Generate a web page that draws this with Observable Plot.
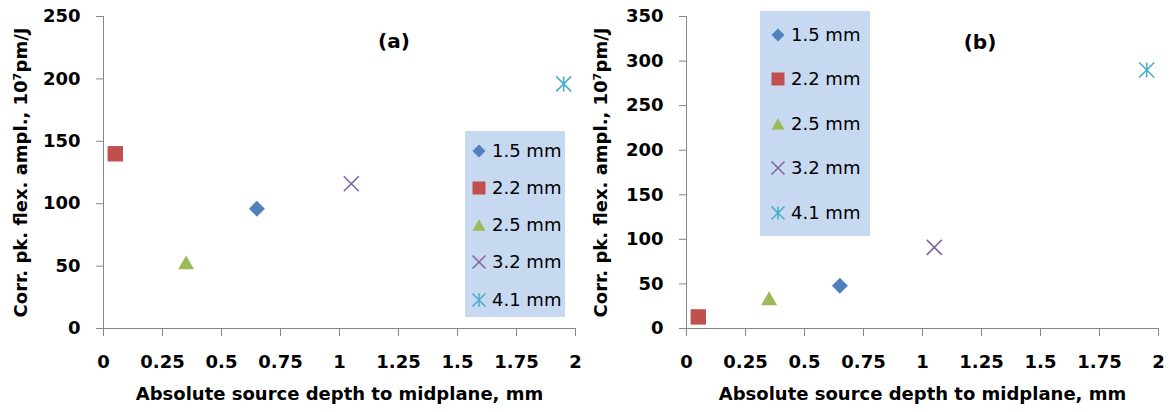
<!DOCTYPE html>
<html><head><meta charset="utf-8">
<script src="https://cdn.jsdelivr.net/npm/d3@7"></script>
<script src="https://cdn.jsdelivr.net/npm/@observablehq/plot@0.6"></script>
<style>
body{margin:0;background:#fff;}
#wrap{position:relative;width:1171px;height:412px;font-family:"DejaVu Sans",sans-serif;overflow:hidden;}
#left,#right{position:absolute;top:0;}
#left{left:0}#right{left:585px}
.legend{position:absolute;background:#C6D9F1;}
.item{position:absolute;left:0;height:20px;font-size:18px;line-height:20px;white-space:nowrap;}
.item svg{position:absolute;top:0;}
.item span{position:absolute;top:0;}
.panel{position:absolute;font-weight:bold;font-size:20px;transform:translate(-50%,-50%);}
</style></head><body>
<div id="wrap">
  <div id="left"></div>
  <div id="right"></div>
  <div class="panel" style="left:394px;top:41px">(a)</div>
  <div class="panel" style="left:980px;top:42px">(b)</div>
  <div class="legend" id="legA" style="left:465px;top:131px;width:100px;height:186px"></div>
  <div class="legend" id="legB" style="left:760px;top:11px;width:110px;height:225px"></div>
</div>
<script>
// ---- data ----
const series = ["1.5 mm", "2.2 mm", "2.5 mm", "3.2 mm", "4.1 mm"];
const depthA = [0.65, 0.05, 0.35, 1.05, 1.95];
const amplA  = [96, 140, 53, 116, 196];
const depthB = [0.65, 0.05, 0.35, 1.05, 1.95];
const amplB  = [48, 13, 34, 91, 290];
const xTicks  = [0, 0.25, 0.5, 0.75, 1, 1.25, 1.5, 1.75, 2];
const yTicksA = [0, 50, 100, 150, 200, 250];
const yTicksB = [0, 50, 100, 150, 200, 250, 300, 350];
const xLabel = "Absolute source depth to midplane, mm";
const yLabel = "Corr. pk. flex. ampl., 10⁷pm/J";

// ---- styles ----
const fills   = ["#4F81BD", "#C0504D", "#9BBB59", "none", "none"];
const strokes = ["none", "none", "none", "#8064A2", "#4BACC6"];
const AXIS = "#868686";

function diamond(h){return {draw(c){c.moveTo(0,-h);c.lineTo(h,0);c.lineTo(0,h);c.lineTo(-h,0);c.closePath();}};}
function square(h){return {draw(c){c.rect(-h,-h,2*h,2*h);}};}
function triangle(h){return {draw(c){c.moveTo(0,-h*0.87);c.lineTo(h,h*0.87);c.lineTo(-h,h*0.87);c.closePath();}};}
function times(h){return {draw(c){c.moveTo(-h,-h);c.lineTo(h,h);c.moveTo(h,-h);c.lineTo(-h,h);}};}
function asterisk(h){return {draw(c){c.moveTo(-h,-h);c.lineTo(h,h);c.moveTo(h,-h);c.lineTo(-h,h);c.moveTo(0,-h);c.lineTo(0,h);}};}
const symChart  = [diamond(8), square(7.7), triangle(8), times(7.5), asterisk(7.5)];
const symLegend = [diamond(6.5), square(6.5), triangle(6.5), times(6.5), asterisk(6.5)];

function chart(xs, ys, yTicks, yMax, opts) {
  const rows = series.map((s, i) => ({s, x: xs[i], y: ys[i]}));
  return Plot.plot({
    width: opts.width, height: 412,
    marginLeft: opts.ml, marginRight: opts.mr, marginTop: 16, marginBottom: 84,
    style: {fontFamily: "DejaVu Sans", fontSize: "18px", fontWeight: "bold", background: "white", overflow: "visible"},
    x: {domain: [0, 2]},
    y: {domain: [0, yMax]},
    marks: [
      Plot.ruleY([0], {stroke: AXIS, insetLeft: -7}),
      Plot.ruleX([0], {stroke: AXIS}),
      Plot.axisX({ticks: xTicks, tickFormat: d => String(d), tickSize: 8, tickPadding: 19, stroke: AXIS, fill: "black", label: null}),
      Plot.axisY({ticks: yTicks, tickFormat: d => String(d), tickSize: 7, tickPadding: 16, stroke: AXIS, fill: "black", label: null}),
      Plot.text([xLabel], {text: d => d, frameAnchor: "bottom", lineAnchor: "top", textAnchor: "middle", dy: 59, fontSize: 18, fill: "black"}),
      Plot.text([yLabel], {text: d => d, frameAnchor: "left", rotate: -90, lineAnchor: "top", textAnchor: "middle", dx: opts.ydx, fontSize: 18, fill: "black"}),
      ...rows.map((r, i) => Plot.dot([r], {x: "x", y: "y", symbol: symChart[i], fill: fills[i], stroke: strokes[i], strokeWidth: 1.6}))
    ]
  });
}

document.getElementById("left").append(chart(depthA, amplA, yTicksA, 250, {width: 585, ml: 103, mr: 10, ydx: -89}));
document.getElementById("right").append(chart(depthB, amplB, yTicksB, 350, {width: 586, ml: 101, mr: 13, ydx: -92}));

function legend(el, first, step, symX, textX) {
  series.forEach((s, i) => {
    const item = document.createElement("div");
    item.className = "item";
    item.style.top = (first + i * step - 10) + "px";
    const p = d3.path();
    symLegend[i].draw(p);
    item.innerHTML = `<svg width="20" height="20" style="left:${symX - 10}px"><path transform="translate(10,10)" d="${p.toString()}" fill="${fills[i]}" stroke="${strokes[i]}" stroke-width="1.5"/></svg><span style="left:${textX}px">${s}</span>`;
    el.append(item);
  });
}
legend(document.getElementById("legA"), 19.5, 37.3, 14, 27);
legend(document.getElementById("legB"), 23.5, 44.6, 18, 31);
</script>
</body></html>
